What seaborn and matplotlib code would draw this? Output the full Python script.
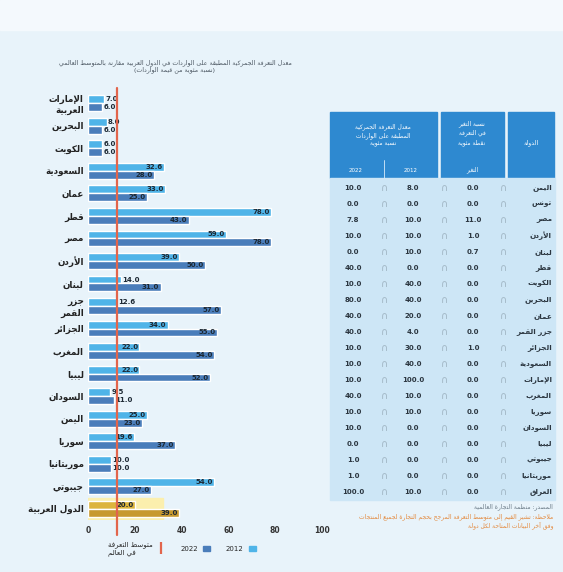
import numpy as np
import pandas as pd
import matplotlib
matplotlib.use('Agg')
import matplotlib.pyplot as plt
from matplotlib.patches import Patch, Rectangle
from matplotlib.lines import Line2D
import seaborn as sns

sns.set_style('white')
plt.rcParams['font.family'] = ['DejaVu Sans']

# ---- بيانات الرسم (من الأعلى إلى الأسفل) ----
countries = ['الإمارات\nالعربية', 'البحرين', 'الكويت', 'السعودية', 'عمان', 'قطر', 'مصر',
             'الأردن', 'لبنان', 'جزر\nالقمر', 'الجزائر', 'المغرب', 'ليبيا', 'السودان',
             'اليمن', 'سوريا', 'موريتانيا', 'جيبوتي', 'الدول العربية']
rate_2012 = [7.0, 8.0, 6.0, 32.6, 33.0, 78.0, 59.0, 39.0, 14.0, 12.6, 34.0, 22.0, 22.0,
             9.5, 25.0, 19.6, 10.0, 54.0, 20.0]
rate_2022 = [6.0, 6.0, 6.0, 28.0, 25.0, 43.0, 78.0, 50.0, 31.0, 57.0, 55.0, 54.0, 52.0,
             11.0, 23.0, 37.0, 10.0, 27.0, 39.0]
world_avg = 12.6
xticks = [0, 20, 40, 60, 80, 100]

# ---- بيانات الجدول ----
tbl_countries = ['اليمن', 'تونس', 'مصر', 'الأردن', 'لبنان', 'قطر', 'الكويت', 'البحرين',
                 'عمان', 'جزر القمر', 'الجزائر', 'السعودية', 'الإمارات', 'المغرب', 'سوريا',
                 'السودان', 'ليبيا', 'جيبوتي', 'موريتانيا', 'العراق']
tbl_2012 = [8.0, 0.0, 10.0, 10.0, 10.0, 0.0, 40.0, 40.0, 20.0, 4.0, 30.0, 40.0, 100.0,
            10.0, 10.0, 0.0, 0.0, 0.0, 0.0, 10.0]
tbl_2022 = [10.0, 0.0, 7.8, 10.0, 0.0, 40.0, 10.0, 80.0, 40.0, 40.0, 10.0, 10.0, 10.0,
            40.0, 10.0, 10.0, 0.0, 1.0, 1.0, 100.0]
tbl_change = [0.0, 0.0, 11.0, 1.0, 0.7, 0.0, 0.0, 0.0, 0.0, 0.0, 1.0, 0.0, 0.0, 0.0,
              0.0, 0.0, 0.0, 0.0, 0.0, 0.0]

c_light = '#4fb4e8'
c_dark = '#4a7dba'
c_red = '#e2654c'

# تشكيل الحروف العربية (matplotlib لا يقوم بذلك)
FORMS = {'آ': 0xFE81, 'أ': 0xFE83, 'ؤ': 0xFE85, 'إ': 0xFE87, 'ئ': 0xFE89, 'ا': 0xFE8D,
         'ب': 0xFE8F, 'ة': 0xFE93, 'ت': 0xFE95, 'ث': 0xFE99, 'ج': 0xFE9D, 'ح': 0xFEA1,
         'خ': 0xFEA5, 'د': 0xFEA9, 'ذ': 0xFEAB, 'ر': 0xFEAD, 'ز': 0xFEAF, 'س': 0xFEB1,
         'ش': 0xFEB5, 'ص': 0xFEB9, 'ض': 0xFEBD, 'ط': 0xFEC1, 'ظ': 0xFEC5, 'ع': 0xFEC9,
         'غ': 0xFECD, 'ف': 0xFED1, 'ق': 0xFED5, 'ك': 0xFED9, 'ل': 0xFEDD, 'م': 0xFEE1,
         'ن': 0xFEE5, 'ه': 0xFEE9, 'و': 0xFEED, 'ى': 0xFEEF, 'ي': 0xFEF1}
DUAL = set('ئبتثجحخسشصضطظعغفقكلمنهي')
LAM_ALEF = {'ا': 0xFEFB, 'أ': 0xFEF7, 'إ': 0xFEF9, 'آ': 0xFEF5}
MIRROR = {'(': ')', ')': '('}


def ar(text):
    lines = []
    for line in text.split('\n'):
        out = []
        i = 0
        while i < len(line):
            ch = line[i]
            prev = line[i - 1] if i > 0 else ''
            jp = 1 if prev in DUAL else 0
            nxt = line[i + 1] if i + 1 < len(line) else ''
            if ch == 'ل' and nxt in LAM_ALEF:
                out.append(chr(LAM_ALEF[nxt] + jp))
                i += 2
                continue
            if ch in FORMS:
                jn = 1 if (ch in DUAL and nxt in FORMS) else 0
                idx = {(0, 0): 0, (1, 0): 1, (0, 1): 2, (1, 1): 3}[(jp, jn)]
                out.append(chr(FORMS[ch] + idx))
            elif ch == 'ء':
                out.append(chr(0xFE80))
            else:
                out.append(MIRROR.get(ch, ch))
            i += 1
        lines.append(''.join(reversed(out)))
    return '\n'.join(lines)


n = len(countries)
labels = [ar(c) for c in countries]
df = pd.DataFrame({'country': labels * 2,
                   'year': ['2012'] * n + ['2022'] * n,
                   'rate': rate_2012 + rate_2022})

fig = plt.figure(figsize=(5.63, 5.72), dpi=100, facecolor='#e8f3fa')
fig.add_artist(Rectangle((0, 1 - 30 / 572), 1, 30 / 572, transform=fig.transFigure,
                         color='#f4f9fd', zorder=0))

ax = fig.add_axes([88 / 563, 1 - 520 / 572, 234 / 563, 428 / 572])
ax.set_facecolor('none')
sns.barplot(data=df, y='country', x='rate', hue='year', hue_order=['2012', '2022'],
            palette=[c_light, c_dark], width=0.7, saturation=1, legend=False, ax=ax)

# صف المتوسط العربي بلون مميز
ax.containers[0][-1].set_facecolor('#dcb43c')
ax.containers[1][-1].set_facecolor('#c7992f')
ax.axhspan(n - 1 - 0.48, n - 1 + 0.48, xmin=0, xmax=0.32, color='#fbefae', zorder=0)

for cont in ax.containers:
    for bar in cont:
        w = bar.get_width()
        y = bar.get_y() + bar.get_height() / 2
        if w > 15:
            ax.text(w - 0.5, y, f'{w:.1f}', ha='right', va='center', fontsize=5,
                    fontweight='bold', color='#1c2833')
        else:
            ax.text(w + 0.5, y, f'{w:.1f}', ha='left', va='center', fontsize=5,
                    fontweight='bold', color='#1c2833')

ax.axvline(world_avg, ymin=-0.035, ymax=1.01, color=c_red, lw=1.6, clip_on=False, zorder=5)

ax.set_xlim(0, 100)
ax.set_ylim(n - 0.5, -0.5)
ax.set_xticks(xticks)
ax.set_xticklabels([str(t) for t in xticks], fontsize=5.5, fontweight='bold', color='#333')
ax.tick_params(axis='y', labelsize=6.3, length=0, pad=3)
ax.tick_params(axis='x', length=0, pad=4)
for t in ax.get_yticklabels():
    t.set_fontweight('bold')
    t.set_color('#222')
    t.set_multialignment('right')
ax.set_xlabel('')
ax.set_ylabel('')
sns.despine(ax=ax, left=True, bottom=True)

handles = [Line2D([], [], color=c_red, marker='|', linestyle='none', markersize=9, mew=1.6),
           Patch(color=c_dark), Patch(color=c_light)]
ax.legend(handles, [ar('متوسط التعرفة\nفي العالم'), '2022', '2012'], ncol=3, frameon=False,
          fontsize=5, markerfirst=False, loc='upper center', bbox_to_anchor=(0.4, -0.035),
          handlelength=1.0, handleheight=0.9, columnspacing=2.2)

fig.text(175 / 563, 1 - 66 / 572,
         ar('معدل التعرفة الجمركية المطبقة على الواردات في الدول العربية مقارنة بالمتوسط العالمي\n(نسبة مئوية من قيمة الواردات)'),
         ha='center', va='center', fontsize=4.5, color='#4a5560', multialignment='center')

# ---- الجدول ----
tax = fig.add_axes([0, 0, 1, 1])
tax.set_xlim(0, 563)
tax.set_ylim(572, 0)
tax.axis('off')
tax.set_facecolor('none')

hdr = '#2e89d0'
tax.add_patch(Rectangle((330, 112), 107, 66, color=hdr))
tax.add_patch(Rectangle((441, 112), 63, 66, color=hdr))
tax.add_patch(Rectangle((508, 112), 46, 66, color=hdr))
tax.plot([384, 384], [160, 178], color='#d8ecfa', lw=0.6)
tax.text(383, 135, ar('معدل التعرفة الجمركية\nالمطبقة على الواردات\nنسبة مئوية'),
         ha='center', va='center', fontsize=4.2, color='white', multialignment='center',
         linespacing=1.5)
tax.text(472, 133, ar('نسبة التغير\nفي التعرفة\nنقطة مئوية'),
         ha='center', va='center', fontsize=4.2, color='white', multialignment='center',
         linespacing=1.5)
tax.text(531, 143, ar('الدولة'), ha='center', va='center', fontsize=4.5, color='white')
tax.text(356, 170, '2022', ha='center', va='center', fontsize=4, color='white')
tax.text(411, 170, '2012', ha='center', va='center', fontsize=4, color='white')
tax.text(472, 170, ar('التغير'), ha='center', va='center', fontsize=4, color='white')

row_h = 16
top = 178
tax.add_patch(Rectangle((330, top), 225, row_h * len(tbl_countries) + 2, color='#cde6f6'))
for i, name in enumerate(tbl_countries):
    y = top + row_h * (i + 0.6)
    tax.text(353, y, f'{tbl_2022[i]:.1f}', ha='center', va='center', fontsize=5,
             fontweight='bold', color='#2b3640')
    tax.text(413, y, f'{tbl_2012[i]:.1f}', ha='center', va='center', fontsize=5,
             fontweight='bold', color='#2b3640')
    tax.text(473, y, f'{tbl_change[i]:.1f}', ha='center', va='center', fontsize=5,
             fontweight='bold', color='#2b3640')
    for xa in (384, 444, 503):
        tax.text(xa, y, '∩', ha='center', va='center', fontsize=7, color='#9fb4c2')
    tax.text(552, y, ar(name), ha='right', va='center', fontsize=5.2, fontweight='bold',
             color='#2b3640')

tax.text(553, 507, ar('المصدر: منظمة التجارة العالمية'), ha='right', va='center',
         fontsize=4.3, color='#6a7a86')
tax.text(553, 521, ar('ملاحظة: تشير القيم إلى متوسط التعرفة المرجح بحجم التجارة لجميع المنتجات\nوفق آخر البيانات المتاحة لكل دولة'),
         ha='right', va='center', fontsize=4.3, color='#e3873a', multialignment='right')

fig.savefig('out.png', dpi=100, facecolor=fig.get_facecolor())
